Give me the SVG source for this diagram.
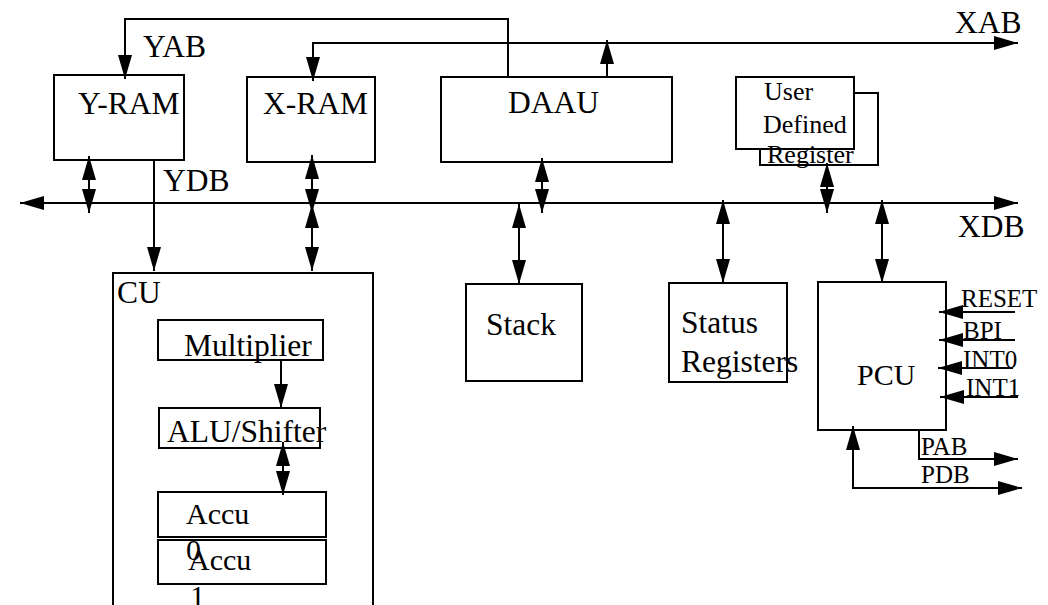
<svg xmlns="http://www.w3.org/2000/svg" width="1048" height="605" viewBox="0 0 1048 605" font-family="'Liberation Serif', 'DejaVu Serif', serif">
<style>
rect{fill:none;stroke:#000;stroke-width:2}
.w{fill:#fff}
text{font-family:'Liberation Serif','DejaVu Serif',serif;font-size:31.5px;fill:#000}
.m{font-size:30px}
.s{font-size:26px}
.t{font-size:25px}
.c line,.c path{fill:none;stroke:#000;stroke-width:2}
</style>
<defs>
<marker id="a" markerUnits="userSpaceOnUse" markerWidth="24" markerHeight="14" refX="24" refY="7" orient="auto-start-reverse" viewBox="0 0 24 14"><path d="M0,0 L24,7 L0,14 z" fill="#000"/></marker>
</defs>
<rect x="0" y="0" width="1048" height="605" style="fill:#fff;stroke:none"/>
<g id="yram"><rect x="54" y="75" width="130" height="85"/><text x="78" y="114">Y-RAM</text></g>
<g id="xram"><rect x="247" y="77" width="128" height="85"/><text x="263" y="114">X-RAM</text></g>
<g id="daau"><rect x="441" y="77" width="231" height="85"/><text x="508" y="113">DAAU</text></g>
<g id="udr"><rect x="760" y="93" width="118" height="72"/><rect class="w" x="736" y="77" width="118" height="72"/><text class="s" x="764" y="100">User</text><text class="s" x="763" y="133">Defined</text><text class="s" x="767" y="163">Register</text></g>
<g id="cu"><rect x="113" y="273" width="260" height="350"/><text x="117" y="303">CU</text></g>
<g id="mult"><rect x="158" y="320" width="165" height="40"/><text x="184" y="356">Multiplier</text></g>
<g id="alu"><rect x="159" y="408" width="161" height="40"/><text x="167" y="442">ALU/Shifter</text></g>
<g id="accu0"><rect x="158" y="492" width="168" height="45"/></g>
<g id="accu1"><rect x="158" y="540" width="168" height="44"/></g>
<g id="accutext"><text class="m" x="186" y="524">Accu</text><text class="m" x="186" y="560">0</text><text class="m" x="188" y="570">Accu</text><text class="m" x="190" y="606">1</text></g>
<g id="stack"><rect x="466" y="284" width="116" height="97"/><text x="486" y="335">Stack</text></g>
<g id="status"><rect x="669" y="283" width="118" height="99"/><text x="681" y="333">Status</text><text x="681" y="372">Registers</text></g>
<g id="pcu"><rect x="818" y="282" width="128" height="148"/><text class="m" x="857" y="385">PCU</text></g>
<g id="labels"><text x="143" y="57">YAB</text><text x="955" y="33">XAB</text><text x="163" y="191">YDB</text><text x="958" y="237">XDB</text>
<text class="t" x="961" y="307">RESET</text><text class="t" x="963" y="339">BPI</text><text class="t" x="963" y="368">INT0</text><text class="t" x="966" y="396">INT1</text>
<text class="t" x="921" y="455">PAB</text><text class="t" x="921" y="483">PDB</text></g>
<g id="connectors" class="c">
<path d="M508,77 V19 H125 V79" marker-end="url(#a)"/>
<path d="M1018,43 H313 V81" marker-start="url(#a)" marker-end="url(#a)"/>
<line x1="607" y1="78" x2="607" y2="40" marker-end="url(#a)"/>
<line x1="20" y1="203" x2="1018" y2="203" marker-start="url(#a)" marker-end="url(#a)"/>
<line x1="89" y1="156" x2="89" y2="213" marker-start="url(#a)" marker-end="url(#a)"/>
<line x1="154" y1="160" x2="154" y2="271" marker-end="url(#a)"/>
<line x1="312" y1="155" x2="312" y2="213" marker-start="url(#a)" marker-end="url(#a)"/>
<line x1="312" y1="204" x2="312" y2="271" marker-start="url(#a)" marker-end="url(#a)"/>
<line x1="542" y1="158" x2="542" y2="213" marker-start="url(#a)" marker-end="url(#a)"/>
<line x1="519" y1="204" x2="519" y2="284" marker-start="url(#a)" marker-end="url(#a)"/>
<line x1="723" y1="200" x2="723" y2="283" marker-start="url(#a)" marker-end="url(#a)"/>
<line x1="827" y1="163" x2="827" y2="213" marker-start="url(#a)" marker-end="url(#a)"/>
<line x1="882" y1="200" x2="882" y2="283" marker-start="url(#a)" marker-end="url(#a)"/>
<line x1="1015" y1="312" x2="939" y2="312" marker-end="url(#a)"/>
<line x1="1015" y1="340" x2="939" y2="340" marker-end="url(#a)"/>
<line x1="1013" y1="368" x2="938" y2="368" marker-end="url(#a)"/>
<line x1="1018" y1="397" x2="940" y2="397" marker-end="url(#a)"/>
<path d="M919,430 V459 H1018" marker-end="url(#a)"/>
<path d="M853,426 V488 H1022" marker-start="url(#a)" marker-end="url(#a)"/>
<line x1="281" y1="360" x2="281" y2="408" marker-end="url(#a)"/>
<line x1="283" y1="442" x2="283" y2="495" marker-start="url(#a)" marker-end="url(#a)"/>
</g>
</svg>
